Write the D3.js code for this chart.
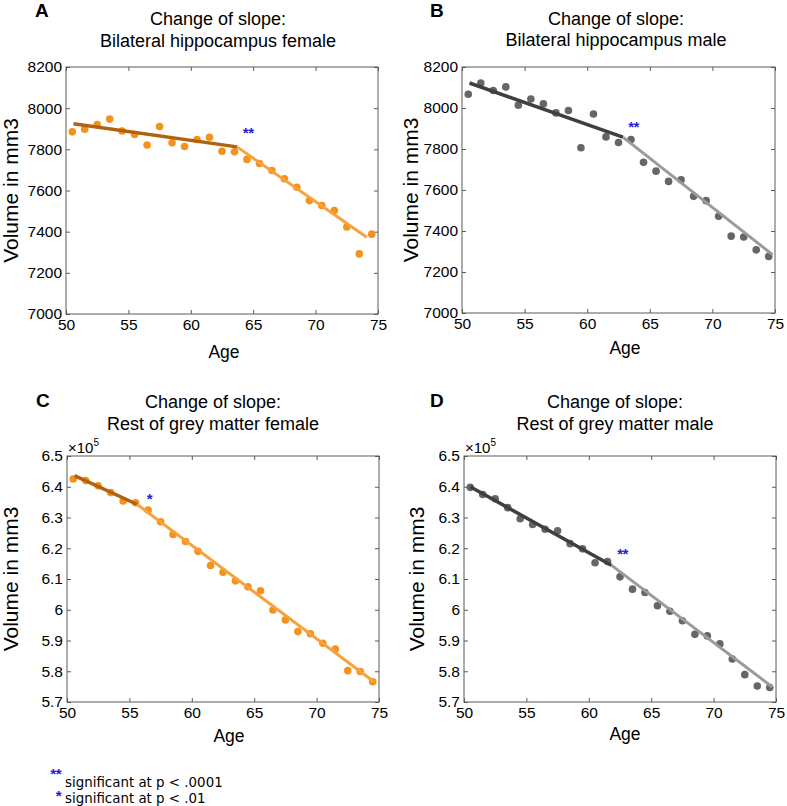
<!DOCTYPE html>
<html><head><meta charset="utf-8">
<script src="https://cdn.jsdelivr.net/npm/d3@7/dist/d3.min.js"></script>
<style>
body{margin:0;background:#fff}
svg{display:block}
text{font-family:"Liberation Sans",Arial,Helvetica,sans-serif;fill:#000}
</style>
</head><body>
<svg id="chart" width="787" height="806"></svg>
<script>
// ---------- DATA ----------
const ages = [50.5,51.5,52.5,53.5,54.5,55.5,56.5,57.5,58.5,59.5,60.5,61.5,62.5,63.5,64.5,65.5,66.5,67.5,68.5,69.5,70.5,71.5,72.5,73.5,74.5];

const hippFemale = [7885,7898,7921,7947,7889,7872,7821,7911,7832,7814,7848,7859,7791,7788,7751,7731,7697,7657,7616,7551,7527,7503,7423,7292,7388];
const hippMale   = [8067,8122,8085,8103,8014,8044,8020,7976,7988,7806,7971,7859,7832,7846,7735,7692,7642,7650,7569,7548,7472,7375,7371,7308,7276];
const greyFemale = [642500,642000,640300,638100,635400,634800,632400,628600,624500,622200,619000,614400,612200,609400,607500,606200,599900,596700,592900,592200,589100,587200,580200,579900,576600];
const greyMale   = [639800,637500,636100,633200,629600,627700,626200,625700,621500,619800,615300,615700,610700,606700,605600,601300,599500,596400,592000,591500,588900,584000,578900,575200,574700];

// piecewise fits: [start, breakpoint, end] as [age, volume]
const hippFemaleFit = [[50.6,7924],[63.7,7812],[74.1,7373]];
const hippMaleFit   = [[50.6,8122],[62.85,7858],[74.8,7285]];
const greyFemaleFit = [[50.6,643600],[55.6,634300],[74.6,576600]];
const greyMaleFit   = [[50.5,640000],[61.8,614500],[74.7,574900]];

// significance markers: [age, volume, label]
const sigMarks = [[64.6,7898,"**"],[63.7,7923,"**"],[56.6,637100,"*"],[62.7,619200,"**"]];

const xTicks = [50,55,60,65,70,75];
const hippTicks = [7000,7200,7400,7600,7800,8000,8200];
const greyTicks = [570000,580000,590000,600000,610000,620000,630000,640000,650000];

const letters = ["A","B","C","D"];
const titles = [
  ["Change of slope:","Bilateral hippocampus female"],
  ["Change of slope:","Bilateral hippocampus male"],
  ["Change of slope:","Rest of grey matter female"],
  ["Change of slope:","Rest of grey matter male"]
];
const legendItems = [["**","significant at p < .0001"],["*","significant at p < .01"]];

// ---------- STYLE / LAYOUT ----------
const orange = {pt:"#F4921E", dark:"#B2620E", light:"#F7A23C"};
const grey   = {pt:"#666666", dark:"#3f3f3f", light:"#9b9b9b"};
const blue = "#1f1fe0";

const panels = [
  {vals:hippFemale, fit:hippFemaleFit, col:orange, ticks:hippTicks, dom:[7000,8200], mult:false,
   box:{l:66,r:378,t:67,b:314}, letterX:35, letterY:17, titleX:218, titleY:[25,47], yLabX:18, xLabX:224, xLabY:358},
  {vals:hippMale, fit:hippMaleFit, col:grey, ticks:hippTicks, dom:[7000,8200], mult:false,
   box:{l:462,r:775,t:67,b:313}, letterX:430, letterY:17, titleX:616, titleY:[25,46], yLabX:418, xLabX:625, xLabY:354},
  {vals:greyFemale, fit:greyFemaleFit, col:orange, ticks:greyTicks, dom:[570000,650000], mult:true,
   box:{l:67,r:379,t:456,b:702}, letterX:36, letterY:407, titleX:213, titleY:[408,430], yLabX:18, xLabX:229, xLabY:742},
  {vals:greyMale, fit:greyMaleFit, col:grey, ticks:greyTicks, dom:[570000,650000], mult:true,
   box:{l:464,r:776,t:456,b:702}, letterX:430, letterY:407, titleX:615, titleY:[408,430], yLabX:424, xLabX:625, xLabY:740}
];

const svg = d3.select("#chart");
const axisCol = "#5a5a5a";

panels.forEach((p,i) => {
  const g = svg.append("g");
  const b = p.box;
  const x = d3.scaleLinear().domain([50,75]).range([b.l,b.r]);
  const y = d3.scaleLinear().domain(p.dom).range([b.b,b.t]);
  const fmt = p.mult ? (v => String(+(v/1e5).toFixed(1))) : d3.format("d");

  // panel letter
  g.append("text").attr("x",p.letterX).attr("y",p.letterY)
    .style("font-size","19px").style("font-weight","bold").text(letters[i]);
  // titles
  titles[i].forEach((t,k) => {
    g.append("text").attr("x",p.titleX).attr("y",p.titleY[k])
      .attr("text-anchor","middle").style("font-size","18px").text(t);
  });

  // axes (inward ticks on all four sides)
  const bottom = g.append("g").attr("transform",`translate(0,${b.b})`)
    .call(d3.axisBottom(x).tickValues(xTicks).tickSizeInner(-4).tickSizeOuter(0).tickPadding(5).tickFormat(d3.format("d")));
  const left = g.append("g").attr("transform",`translate(${b.l},0)`)
    .call(d3.axisLeft(y).tickValues(p.ticks).tickSizeInner(-4).tickSizeOuter(0).tickPadding(4).tickFormat(fmt));
  const top = g.append("g").attr("transform",`translate(0,${b.t})`)
    .call(d3.axisTop(x).tickValues(xTicks).tickSizeInner(-4).tickSizeOuter(0).tickFormat(""));
  const right = g.append("g").attr("transform",`translate(${b.r},0)`)
    .call(d3.axisRight(y).tickValues(p.ticks).tickSizeInner(-4).tickSizeOuter(0).tickFormat(""));
  [bottom,left,top,right].forEach(a => {
    a.select(".domain").remove();
    a.selectAll("line").attr("stroke",axisCol);
    a.selectAll("text").style("font-size","15.5px").style("font-family",'"Liberation Sans",Arial,sans-serif').attr("fill","#000");
  });
  g.append("rect").attr("x",b.l).attr("y",b.t).attr("width",b.r-b.l).attr("height",b.b-b.t)
    .attr("fill","none").attr("stroke",axisCol).attr("stroke-width",1);

  if (p.mult) {
    const m = g.append("text").attr("x",b.l+1).attr("y",b.t-3).style("font-size","15px");
    m.append("tspan").text("\u00d710");
    m.append("tspan").attr("dy",-7).style("font-size","10px").text("5");
  }

  // axis labels
  g.append("text").attr("x",p.xLabX).attr("y",p.xLabY).attr("text-anchor","middle")
    .style("font-size","17.5px").text("Age");
  g.append("text").attr("transform",`translate(${p.yLabX},${(b.t+b.b)/2}) rotate(-90)`)
    .attr("text-anchor","middle").style("font-size","21px").text("Volume in mm3");

  // points
  g.selectAll("circle.pt").data(ages.map((a,k)=>[a,p.vals[k]])).join("circle")
    .attr("class","pt").attr("cx",d=>x(d[0])).attr("cy",d=>y(d[1])).attr("r",3.8)
    .attr("fill",p.col.pt);

  // fitted segments
  const line = d3.line().x(d=>x(d[0])).y(d=>y(d[1]));
  g.append("path").attr("d",line([p.fit[1],p.fit[2]])).attr("fill","none")
    .attr("stroke",p.col.light).attr("stroke-width",3);
  g.append("path").attr("d",line([p.fit[0],p.fit[1]])).attr("fill","none")
    .attr("stroke",p.col.dark).attr("stroke-width",3.5);

  // significance marker
  const s = sigMarks[i];
  g.append("text").attr("x",x(s[0])).attr("y",y(s[1])+8.5).attr("text-anchor","middle")
    .style("font-size","15px").style("font-weight","bold").style("letter-spacing","-0.5px")
    .style("fill",blue).text(s[2]);
});

// legend
const lg = svg.append("g");
legendItems.forEach((it,k) => {
  const cy = k===0 ? 770.5 : 792.5;
  lg.append("text").attr("x",61).attr("y",cy+8.5).attr("text-anchor","end")
    .style("font-size","15px").style("font-weight","bold").style("letter-spacing","-0.5px")
    .style("fill",blue).text(it[0]);
  lg.append("text").attr("x",65).attr("y",k===0?786.7:803.3)
    .style("font-family",'"DejaVu Sans",Verdana,sans-serif').style("font-size","13.4px").text(it[1]);
});
</script>
</body></html>
